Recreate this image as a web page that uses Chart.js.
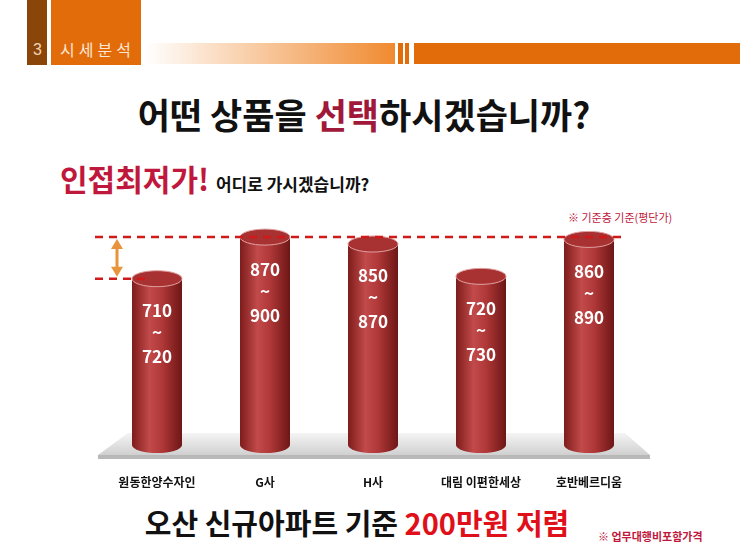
<!DOCTYPE html>
<html>
<head>
<meta charset="utf-8">
<script src="https://cdn.jsdelivr.net/npm/chart.js@4"></script>
<style>
  body { margin: 0; background: #fff; }
  #wrap { position: relative; width: 740px; height: 555px; overflow: hidden; font-family: "Noto Sans CJK KR", sans-serif; }
  .abs { position: absolute; white-space: nowrap; }
  canvas { position: absolute; left: 0; top: 0; }
</style>
</head>
<body>
<div id="wrap">
  <div class="abs" style="left:27px;top:0;width:20px;height:65px;background:#8a4509"></div>
  <div class="abs" style="left:51px;top:0;width:90px;height:65px;background:#e36c0a"></div>
  <div class="abs" style="left:33px;top:41px;color:#f4d2b0;font-size:16px;font-family:'Liberation Sans'">3</div>
  <div class="abs" style="left:60px;top:37px;color:#fbe6d4;font-size:16px;letter-spacing:4px">시세분석</div>
  <div class="abs" style="left:145px;top:43px;width:250px;height:21px;background:linear-gradient(to right,#fff,#f08a30)"></div>
  <div class="abs" style="left:398px;top:43px;width:5px;height:21px;background:#e36c0a"></div>
  <div class="abs" style="left:405px;top:43px;width:4px;height:21px;background:#e36c0a"></div>
  <div class="abs" style="left:414px;top:43px;width:326px;height:21px;background:#e36c0a"></div>

  <div class="abs" style="left:0;width:728px;text-align:center;top:92px;font-size:35px;font-weight:bold;color:#111;line-height:44px">어떤 상품을 <span style="color:#a0183a">선택</span>하시겠습니까?</div>
  <div class="abs" style="left:60px;top:158px;font-size:30px;font-weight:bold;color:#c0183c;line-height:40px">인접최저가! <span style="font-size:17px;color:#111">어디로 가시겠습니까?</span></div>
  <div class="abs" style="left:568px;top:209px;font-size:11px;color:#c0183c">※ 기준층 기준(평단가)</div>
  <div class="abs" style="left:0;width:714px;text-align:center;top:503px;font-size:29px;font-weight:bold;color:#111;line-height:38px">오산 신규아파트 기준 <span style="color:#e0101a">200만원 저렴</span></div>
  <div class="abs" style="left:598px;top:528px;font-size:11px;font-weight:bold;color:#c0183c">※ 업무대행비포함가격</div>
  <canvas id="c" width="740" height="555"></canvas>
</div>
<script>
const categories = ["원동한양수자인", "G사", "H사", "대림 이편한세상", "호반베르디움"];
const lowPrice = [710, 870, 850, 720, 860];
const highPrice = [720, 900, 870, 730, 890];
const refHigh = 900;
const refLow = 720;

const cylinders = {
  id: "cylinders",
  beforeDatasetsDraw(chart) {
    const ctx = chart.ctx;
    const b = chart.scales.y.getPixelForValue(0);
    ctx.save();
    ctx.beginPath();
    ctx.moveTo(128, b - 12); ctx.lineTo(625, b - 12);
    ctx.lineTo(650, b + 10); ctx.lineTo(98, b + 10); ctx.closePath();
    const g = ctx.createLinearGradient(0, b - 12, 0, b + 10);
    g.addColorStop(0, "#f4f4f4"); g.addColorStop(1, "#d0d0d0");
    ctx.fillStyle = g; ctx.fill();
    ctx.fillStyle = "#b8b8b8";
    ctx.fillRect(98, b + 10, 552, 4);
    ctx.restore();
  },
  afterDatasetsDraw(chart) {
    const ctx = chart.ctx;
    const meta = chart.getDatasetMeta(0);
    meta.data.forEach((bar, i) => {
      const w = bar.width, x0 = bar.x - w / 2, top = bar.y, base = bar.base;
      const ry = 8;
      const g = ctx.createLinearGradient(x0, 0, x0 + w, 0);
      g.addColorStop(0, "#7e1c1c"); g.addColorStop(0.35, "#c24a4a");
      g.addColorStop(0.6, "#b03838"); g.addColorStop(1, "#6e1616");
      ctx.save();
      ctx.fillStyle = g;
      ctx.beginPath();
      ctx.moveTo(x0, top);
      ctx.lineTo(x0, base);
      ctx.ellipse(bar.x, base, w / 2, ry, 0, Math.PI, 0, true);
      ctx.lineTo(x0 + w, top);
      ctx.closePath();
      ctx.fill();
      ctx.beginPath();
      ctx.ellipse(bar.x, top, w / 2, ry, 0, 0, Math.PI * 2);
      ctx.fillStyle = "#a83232"; ctx.fill();
      ctx.strokeStyle = "#e0a0a0"; ctx.lineWidth = 1; ctx.stroke();
      ctx.fillStyle = "#fff";
      ctx.font = "bold 17px 'Noto Sans CJK KR'";
      ctx.textAlign = "center"; ctx.textBaseline = "middle";
      ctx.fillText(String(lowPrice[i]), bar.x, top + 32);
      ctx.fillText("~", bar.x, top + 54);
      ctx.fillText(String(highPrice[i]), bar.x, top + 78);
      ctx.fillStyle = "#111";
      ctx.font = "bold 12px 'Noto Sans CJK KR'";
      ctx.fillText(categories[i], bar.x, 482);
      ctx.restore();
    });
    const y = chart.scales.y;
    const yh = y.getPixelForValue(refHigh), yl = y.getPixelForValue(refLow);
    ctx.save();
    ctx.strokeStyle = "#d01a1a"; ctx.lineWidth = 2.5; ctx.setLineDash([8, 6]);
    ctx.beginPath(); ctx.moveTo(95, yh); ctx.lineTo(625, yh); ctx.stroke();
    ctx.beginPath(); ctx.moveTo(95, yl); ctx.lineTo(150, yl); ctx.stroke();
    ctx.setLineDash([]);
    ctx.strokeStyle = "#e8943a"; ctx.fillStyle = "#e8943a"; ctx.lineWidth = 3;
    ctx.beginPath(); ctx.moveTo(117, yh + 8); ctx.lineTo(117, yl - 8); ctx.stroke();
    [[yh + 2, 1], [yl - 2, -1]].forEach(([py, d]) => {
      ctx.beginPath(); ctx.moveTo(117, py); ctx.lineTo(111, py + 10 * d); ctx.lineTo(123, py + 10 * d); ctx.closePath(); ctx.fill();
    });
    ctx.restore();
  }
};

new Chart(document.getElementById("c"), {
  type: "bar",
  data: {
    labels: categories,
    datasets: [{ data: highPrice, backgroundColor: "rgba(0,0,0,0)", barThickness: 50 }]
  },
  options: {
    responsive: false,
    animation: false,
    layout: { padding: { left: 103, right: 97, top: 214, bottom: 110 } },
    plugins: { legend: { display: false }, tooltip: { enabled: false } },
    scales: {
      x: { display: false },
      y: { display: false, min: 0, max: 1000 }
    }
  },
  plugins: [cylinders]
});
</script>
</body>
</html>
